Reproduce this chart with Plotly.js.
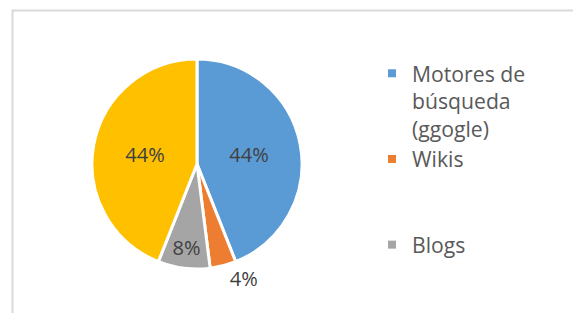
<!DOCTYPE html>
<html>
<head>
<meta charset="utf-8">
<script src="https://cdn.plot.ly/plotly-3.0.1.min.js"></script>
<style>
  html, body { margin: 0; padding: 0; background: #ffffff; }
  #chart { width: 573px; height: 313px; }
</style>
</head>
<body>
<div id="chart"></div>
<script>
// ---- data ----
const categories = ['Motores de búsqueda (ggogle)', 'Wikis', 'Blogs', 'Otros'];
const values = [11, 1, 2, 11];
const colors = ['#5B9BD5', '#ED7D31', '#A5A5A5', '#FFC000'];
const textPositions = ['inside', 'outside', 'inside', 'inside'];
// legend shows only the first three categories (as in the reference)
const legendLabels = ['Motores de<br>búsqueda<br>(ggogle)', 'Wikis<br> <br> ', 'Blogs'];

const FONT = 'Open Sans, Liberation Sans, sans-serif';

const pie = {
  type: 'pie',
  labels: categories,
  values: values,
  sort: false,
  direction: 'clockwise',
  rotation: 0,
  marker: { colors: colors, line: { color: '#ffffff', width: 3 } },
  textinfo: 'percent',
  textposition: textPositions,
  insidetextorientation: 'horizontal',
  textfont: { family: FONT, size: 20, color: '#404040' },
  outsidetextfont: { family: FONT, size: 20, color: '#404040' },
  showlegend: false,
  domain: { x: [(197 - 105) / 573, (197 + 105) / 573], y: [(149 - 105) / 313, (149 + 105) / 313] },
  hoverinfo: 'label+percent'
};

const legendTraces = legendLabels.map((lab, i) => ({
  type: 'scatter',
  mode: 'markers',
  x: [null], y: [null],
  name: lab,
  marker: { symbol: 'square', size: 8, color: colors[i] },
  showlegend: true,
  hoverinfo: 'skip'
}));

const layout = {
  width: 573,
  height: 313,
  margin: { l: 0, r: 0, t: 0, b: 0 },
  paper_bgcolor: '#ffffff',
  plot_bgcolor: '#ffffff',
  xaxis: { visible: false, domain: [0.99, 1] },
  yaxis: { visible: false, domain: [0.99, 1] },
  showlegend: true,
  legend: {
    x: 372 / 573, xanchor: 'left',
    y: 1 - 53 / 313, yanchor: 'top',
    valign: 'top',
    bgcolor: 'rgba(0,0,0,0)',
    font: { family: FONT, size: 21.2, color: '#595959' },
    itemclick: false, itemdoubleclick: false,
    tracegroupgap: 0
  },
  shapes: [{
    type: 'rect', xref: 'paper', yref: 'paper',
    x0: 12.5 / 573, x1: 1.2, y0: -0.2, y1: 1 - 10.5 / 313,
    line: { color: '#D9D9D9', width: 2 },
    fillcolor: 'rgba(0,0,0,0)', layer: 'below'
  }]
};

Plotly.newPlot('chart', [pie, ...legendTraces], layout, { displayModeBar: false, staticPlot: true });
</script>
</body>
</html>
